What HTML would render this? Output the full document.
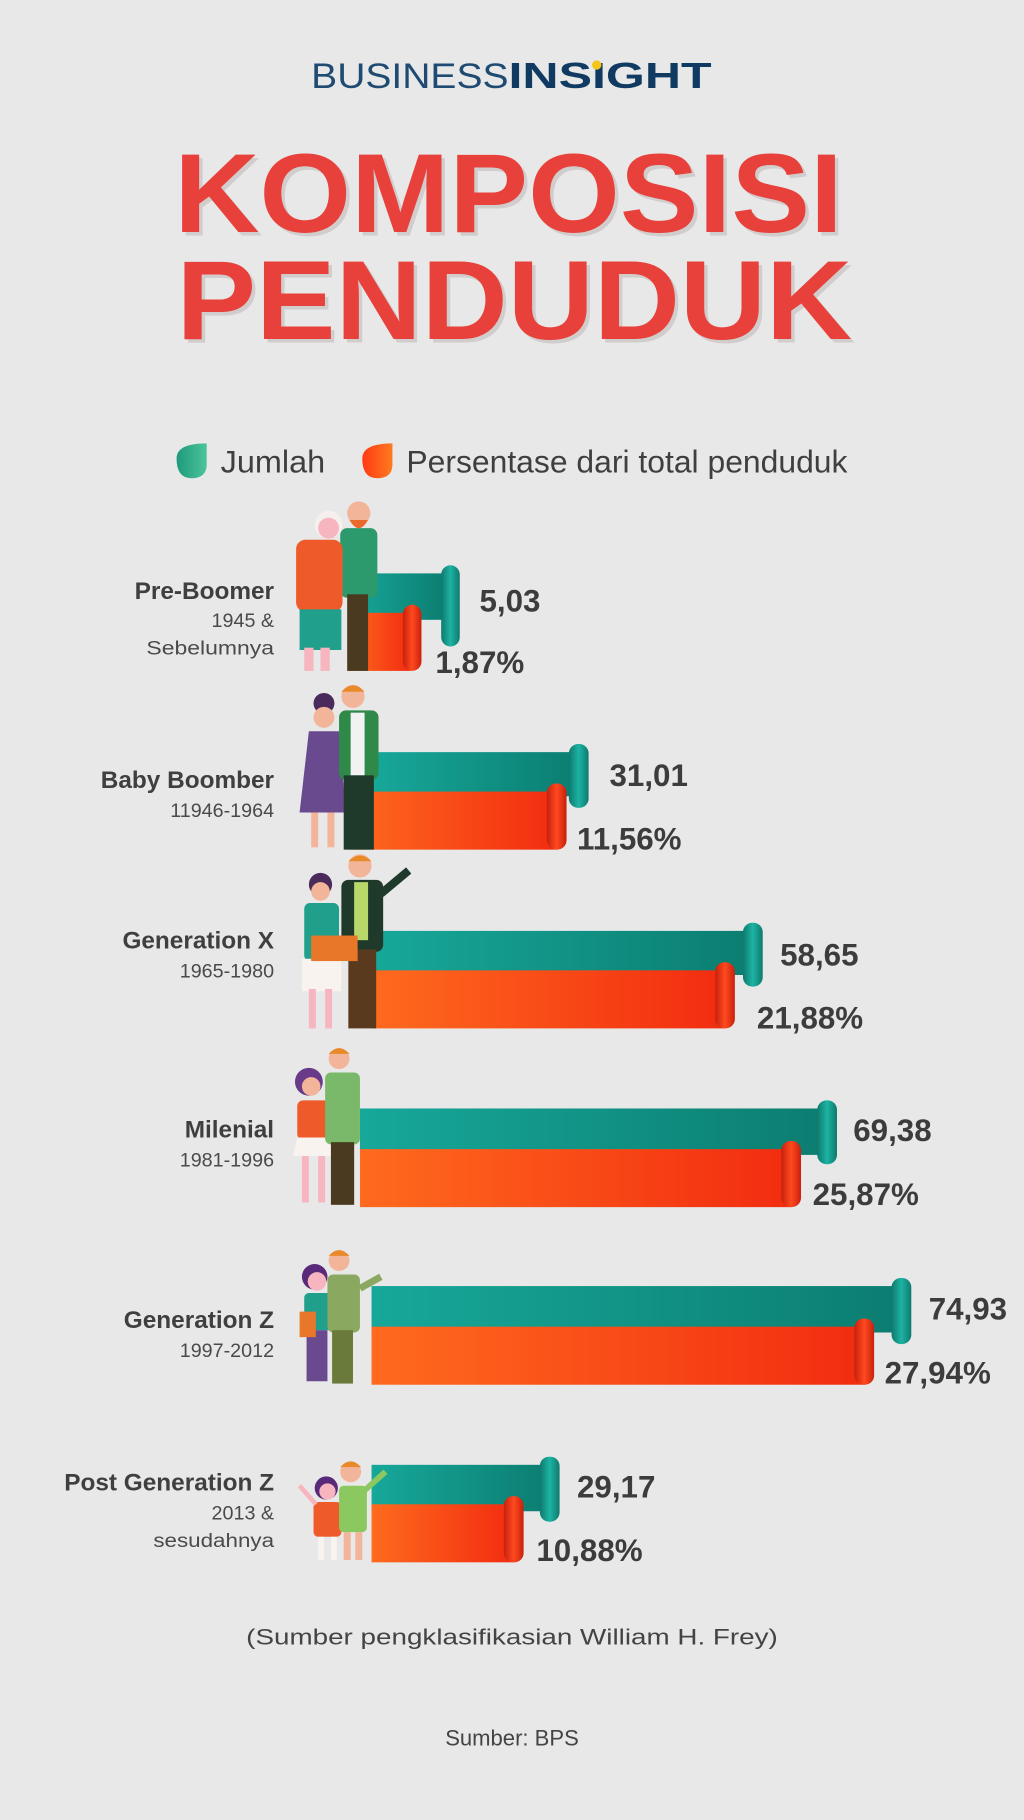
<!DOCTYPE html>
<html><head><meta charset="utf-8"><style>
html,body{margin:0;padding:0;background:#e8e8e8;}
svg{display:block;}
.lab{font-family:"Liberation Sans Narrow","Liberation Sans",sans-serif;font-weight:bold;fill:#3f3f3f;font-size:21px;}
.sub{font-family:"Liberation Sans Narrow","Liberation Sans",sans-serif;fill:#4a4a4a;font-size:17px;}
.val{font-family:"Liberation Sans Narrow","Liberation Sans",sans-serif;font-weight:bold;fill:#3c3c3c;font-size:27px;}
.leg{font-family:"Liberation Sans Narrow","Liberation Sans",sans-serif;fill:#3f3f3f;font-size:27px;}
.foot{font-family:"Liberation Sans","DejaVu Sans",sans-serif;fill:#444;font-size:19px;}
</style></head><body>
<svg width="1024" height="1820" viewBox="0 0 882 1568" xmlns="http://www.w3.org/2000/svg">
<defs>
<linearGradient id="tg" x1="0" x2="1"><stop offset="0" stop-color="#17a89a"/><stop offset="1" stop-color="#0b7d70"/></linearGradient>
<linearGradient id="og" x1="0" x2="1"><stop offset="0" stop-color="#ff6a1e"/><stop offset="1" stop-color="#f22c10"/></linearGradient>
<linearGradient id="tr" x1="0" x2="1"><stop offset="0" stop-color="#0e7a6e"/><stop offset=".5" stop-color="#1db3a3"/><stop offset="1" stop-color="#0e7a6e"/></linearGradient>
<linearGradient id="orr" x1="0" x2="1"><stop offset="0" stop-color="#c8200c"/><stop offset=".5" stop-color="#ff4a20"/><stop offset="1" stop-color="#c8200c"/></linearGradient>
<linearGradient id="lg1" x1="0" x2="1"><stop offset="0" stop-color="#1e9a7c"/><stop offset="1" stop-color="#4cc49a"/></linearGradient>
<linearGradient id="lg2" x1="0" x2="1"><stop offset="0" stop-color="#ff3a14"/><stop offset="1" stop-color="#ff7a20"/></linearGradient>
</defs>
<rect width="882" height="1568" fill="#e8e8e8"/>
<text x="268" y="76" font-family="Liberation Sans,sans-serif" font-size="30" fill="#1f4a72" textLength="170" lengthAdjust="spacingAndGlyphs">BUSINESS</text>
<text x="438" y="76" font-family="Liberation Sans,sans-serif" font-weight="bold" font-size="31" fill="#103a62" textLength="175" lengthAdjust="spacingAndGlyphs">INSIGHT</text>
<circle cx="514" cy="56" r="4" fill="#f5c518"/>
<g font-family="Liberation Sans,sans-serif" font-weight="bold" font-size="97" fill="#e8403a">
<text x="153" y="203" textLength="576" lengthAdjust="spacingAndGlyphs" fill="#bdb4b4" opacity=".5">KOMPOSISI</text>
<text x="150" y="200" textLength="576" lengthAdjust="spacingAndGlyphs">KOMPOSISI</text>
<text x="155" y="295" textLength="582" lengthAdjust="spacingAndGlyphs" fill="#bdb4b4" opacity=".5">PENDUDUK</text>
<text x="152" y="292" textLength="582" lengthAdjust="spacingAndGlyphs">PENDUDUK</text>
</g>
<path d="M152 395 Q152 382 178 382 L178 400 Q178 412 165 412 Q152 412 152 395Z" fill="url(#lg1)"/>
<text class="leg" x="190" y="407" textLength="90" lengthAdjust="spacingAndGlyphs">Jumlah</text>
<path d="M312 395 Q312 382 338 382 L338 400 Q338 412 325 412 Q312 412 312 395Z" fill="url(#lg2)"/>
<text class="leg" x="350" y="407" textLength="380" lengthAdjust="spacingAndGlyphs">Persentase dari total penduduk</text>

<g>
<rect x="300" y="494" width="86" height="40" fill="url(#tg)"/>
<rect x="380" y="487" width="16" height="70" rx="8" fill="url(#tr)"/>
<rect x="300" y="528" width="54" height="50" fill="url(#og)"/>
<rect x="347" y="521" width="16" height="57" rx="8" fill="url(#orr)"/>
<text class="val" x="413" y="527">5,03</text>
<text class="val" x="375" y="580">1,87%</text>
<text class="lab" x="236" y="516" text-anchor="end">Pre-Boomer</text>
<text class="sub" x="236" y="540" text-anchor="end">1945 &amp;</text>
<text class="sub" x="236" y="564" text-anchor="end" textLength="110" lengthAdjust="spacingAndGlyphs">Sebelumnya</text>
<circle cx="283" cy="452" r="12" fill="#f5f0ee"/><circle cx="283" cy="455" r="9" fill="#f7b5c0"/>
<circle cx="309" cy="442" r="10" fill="#f3b59a"/><path d="M301 448 Q309 462 317 448Z" fill="#e96a2a"/>
<rect x="293" y="455" width="32" height="60" rx="6" fill="#2d9a6d"/>
<rect x="299" y="512" width="18" height="66" fill="#4a3a1f"/>
<rect x="255" y="465" width="40" height="62" rx="8" fill="#ef5a2a"/>
<rect x="258" y="525" width="36" height="35" fill="#1f9f8c"/>
<rect x="262" y="558" width="8" height="20" fill="#f7b5c0"/><rect x="276" y="558" width="8" height="20" fill="#f7b5c0"/>

<rect x="320" y="648" width="180" height="38" fill="url(#tg)"/>
<rect x="490" y="641" width="17" height="55" rx="8" fill="url(#tr)"/>
<rect x="300" y="682" width="180" height="50" fill="url(#og)"/>
<rect x="471" y="675" width="17" height="57" rx="8" fill="url(#orr)"/>
<text class="val" x="525" y="677">31,01</text>
<text class="val" x="497" y="732">11,56%</text>
<text class="lab" x="236" y="679" text-anchor="end">Baby Boomber</text>
<text class="sub" x="236" y="704" text-anchor="end">11946-1964</text>
<circle cx="279" cy="606" r="9" fill="#4a2a5a"/><circle cx="279" cy="618" r="9" fill="#f3b59a"/>
<path d="M266 630 L292 630 L298 700 L258 700Z" fill="#6a4a8f"/>
<rect x="268" y="700" width="6" height="30" fill="#f3b59a"/><rect x="282" y="700" width="6" height="30" fill="#f3b59a"/>
<circle cx="304" cy="600" r="10" fill="#f3b59a"/><path d="M294 596 Q304 585 314 596Z" fill="#e98a2a"/>
<rect x="292" y="612" width="34" height="60" rx="6" fill="#2f8a4a"/><rect x="302" y="614" width="12" height="54" fill="#f2f2f2"/>
<rect x="296" y="668" width="26" height="64" fill="#1f3a2a"/>

<rect x="320" y="802" width="330" height="38" fill="url(#tg)"/>
<rect x="640" y="795" width="17" height="55" rx="8" fill="url(#tr)"/>
<rect x="320" y="836" width="305" height="50" fill="url(#og)"/>
<rect x="616" y="829" width="17" height="57" rx="8" fill="url(#orr)"/>
<text class="val" x="672" y="832">58,65</text>
<text class="val" x="652" y="886">21,88%</text>
<text class="lab" x="236" y="817" text-anchor="end">Generation X</text>
<text class="sub" x="236" y="842" text-anchor="end">1965-1980</text>
<circle cx="276" cy="762" r="10" fill="#4a2a5a"/><circle cx="276" cy="768" r="8" fill="#f3b59a"/>
<rect x="262" y="778" width="30" height="50" rx="5" fill="#1f9f8c"/>
<rect x="260" y="826" width="34" height="28" fill="#f8f3ee"/>
<rect x="266" y="852" width="6" height="34" fill="#f7b5c0"/><rect x="280" y="852" width="6" height="34" fill="#f7b5c0"/>
<circle cx="310" cy="746" r="10" fill="#f3b59a"/><path d="M300 742 Q310 732 320 742Z" fill="#e98a2a"/>
<rect x="294" y="758" width="36" height="62" rx="6" fill="#1f3a2a"/><rect x="305" y="760" width="12" height="50" fill="#b8d86a"/>
<rect x="300" y="818" width="24" height="68" fill="#5a3a1f"/>
<rect x="268" y="806" width="40" height="22" fill="#e9772a"/>
<path d="M328 770 L352 750" stroke="#1f3a2a" stroke-width="7"/>

<rect x="310" y="955" width="404" height="40" fill="url(#tg)"/>
<rect x="704" y="948" width="17" height="55" rx="8" fill="url(#tr)"/>
<rect x="310" y="990" width="372" height="50" fill="url(#og)"/>
<rect x="673" y="983" width="17" height="57" rx="8" fill="url(#orr)"/>
<text class="val" x="735" y="983">69,38</text>
<text class="val" x="700" y="1038">25,87%</text>
<text class="lab" x="236" y="980" text-anchor="end">Milenial</text>
<text class="sub" x="236" y="1005" text-anchor="end">1981-1996</text>
<circle cx="266" cy="932" r="12" fill="#6a3a8a"/><circle cx="268" cy="936" r="8" fill="#f3b59a"/>
<rect x="256" y="948" width="28" height="34" rx="5" fill="#ef5a2a"/>
<path d="M256 980 L284 980 L288 996 L252 996Z" fill="#f8f3ee"/>
<rect x="260" y="996" width="6" height="40" fill="#f7b5c0"/><rect x="274" y="996" width="6" height="40" fill="#f7b5c0"/>
<circle cx="292" cy="912" r="9" fill="#f3b59a"/><path d="M283 908 Q292 898 301 908Z" fill="#e98a2a"/>
<rect x="280" y="924" width="30" height="62" rx="5" fill="#7ab86a"/>
<rect x="285" y="984" width="20" height="54" fill="#4a3a1f"/>

<rect x="320" y="1108" width="458" height="40" fill="url(#tg)"/>
<rect x="768" y="1101" width="17" height="57" rx="8" fill="url(#tr)"/>
<rect x="320" y="1143" width="425" height="50" fill="url(#og)"/>
<rect x="736" y="1136" width="17" height="57" rx="8" fill="url(#orr)"/>
<text class="val" x="800" y="1137">74,93</text>
<text class="val" x="762" y="1192">27,94%</text>
<text class="lab" x="236" y="1144" text-anchor="end">Generation Z</text>
<text class="sub" x="236" y="1169" text-anchor="end">1997-2012</text>
<circle cx="271" cy="1100" r="11" fill="#5a2a7a"/><circle cx="273" cy="1104" r="8" fill="#f7b5c0"/>
<rect x="262" y="1114" width="24" height="32" rx="4" fill="#1f9f8c"/>
<rect x="264" y="1146" width="18" height="44" fill="#6a4a8f"/>
<rect x="258" y="1130" width="14" height="22" fill="#e9772a"/>
<circle cx="292" cy="1086" r="9" fill="#f3b59a"/><path d="M283 1082 Q292 1072 301 1082Z" fill="#e98a2a"/>
<rect x="282" y="1098" width="28" height="50" rx="5" fill="#8aa860"/>
<rect x="286" y="1146" width="18" height="46" fill="#6a7a3a"/>
<path d="M310 1110 L328 1100" stroke="#8aa860" stroke-width="6"/>

<rect x="320" y="1262" width="155" height="40" fill="url(#tg)"/>
<rect x="465" y="1255" width="17" height="56" rx="8" fill="url(#tr)"/>
<rect x="320" y="1296" width="123" height="50" fill="url(#og)"/>
<rect x="434" y="1289" width="17" height="57" rx="8" fill="url(#orr)"/>
<text class="val" x="497" y="1290">29,17</text>
<text class="val" x="462" y="1345">10,88%</text>
<text class="lab" x="236" y="1284" text-anchor="end">Post Generation Z</text>
<text class="sub" x="236" y="1309" text-anchor="end">2013 &amp;</text>
<text class="sub" x="236" y="1333" text-anchor="end" textLength="104" lengthAdjust="spacingAndGlyphs">sesudahnya</text>
<circle cx="281" cy="1282" r="10" fill="#5a2a7a"/><circle cx="282" cy="1285" r="7" fill="#f7b5c0"/>
<rect x="270" y="1294" width="24" height="30" rx="4" fill="#ef5a2a"/>
<rect x="274" y="1324" width="5" height="20" fill="#f8f3ee"/><rect x="285" y="1324" width="5" height="20" fill="#f8f3ee"/>
<circle cx="302" cy="1268" r="9" fill="#f3b59a"/><path d="M293 1264 Q302 1254 311 1264Z" fill="#e98a2a"/>
<rect x="292" y="1280" width="24" height="40" rx="4" fill="#8cc860"/>
<rect x="296" y="1320" width="6" height="24" fill="#f3b59a"/><rect x="306" y="1320" width="6" height="24" fill="#f3b59a"/>
<path d="M314 1284 L332 1268" stroke="#8cc860" stroke-width="5"/>
<path d="M272 1296 L258 1280" stroke="#f7b5c0" stroke-width="4"/>
</g>

<text class="foot" x="441" y="1417" text-anchor="middle" textLength="458" lengthAdjust="spacingAndGlyphs">(Sumber pengklasifikasian William H. Frey)</text>
<text class="foot" x="441" y="1504" text-anchor="middle">Sumber: BPS</text>
</svg>
</body></html>
